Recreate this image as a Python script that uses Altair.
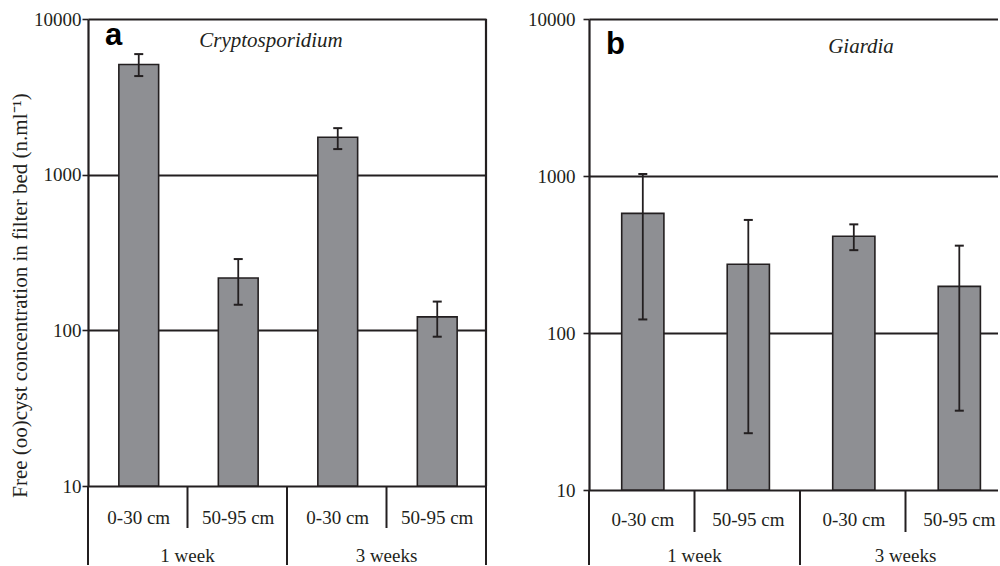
import altair as alt
import pandas as pd

# ---- data ----
depths = ["0-30 cm", "50-95 cm", "0-30 cm", "50-95 cm"]
weeks = ["1 week", "3 weeks"]
crypto_mean = [5100, 217, 1740, 122]
crypto_hi = [5950, 287, 1990, 153]
crypto_lo = [4300, 146, 1460, 91]
giardia_mean = [578, 274, 413, 198]
giardia_hi = [1030, 525, 492, 360]
giardia_lo = [122, 23, 337, 32]
y_ticks = [10, 100, 1000, 10000]

SERIF = "Liberation Serif"
SANS = "Liberation Sans"
FILL = "#8e8f93"
INK = "#231f20"
FS = 19


def panel(mean, hi, lo, letter, organism, H, W, xmax, ytitle, label_pad,
          letter_y, title_y, title_cx, draw_right, table_h, depth_dy, week_dy):
    n = len(depths)
    df = pd.DataFrame({"i": list(range(n)), "depth": depths,
                       "mean": mean, "hi": hi, "lo": lo})
    df["x0"] = df["i"] + 0.31
    df["x1"] = df["i"] + 0.71
    df["xc"] = df["i"] + 0.51

    xs = alt.Scale(domain=[0, xmax], nice=False, zero=False)
    ys = alt.Scale(type="log", domain=[10, 10000], nice=False)

    axis_kw = dict(values=y_ticks, format="d", grid=True, gridColor=INK,
                   gridWidth=1.8, domainColor=INK, domainWidth=2.2,
                   tickColor=INK, tickSize=6, tickWidth=1.6,
                   labelFont=SERIF, labelFontSize=FS, labelColor=INK,
                   labelPadding=label_pad)
    if ytitle:
        axis_kw.update(title=ytitle, titleFont=SERIF, titleFontSize=21,
                       titleFontWeight="normal", titleColor=INK,
                       titlePadding=3, titleY=276)
    else:
        axis_kw.update(title="")
    base = alt.Chart(df)

    bars = base.mark_bar(fill=FILL, stroke=INK, strokeWidth=1.6).encode(
        x=alt.X("x0:Q", scale=xs, axis=None),
        x2="x1:Q",
        y=alt.Y("mean:Q", scale=ys, axis=alt.Axis(**axis_kw)),
        y2=alt.datum(10),
    )
    err = base.mark_rule(color=INK, strokeWidth=1.8).encode(
        x="xc:Q", y="lo:Q", y2="hi:Q")
    cap_hi = base.mark_rule(color=INK, strokeWidth=2, xOffset=-4.5,
                            x2Offset=4.5).encode(x="xc:Q", x2="xc:Q", y="hi:Q")
    cap_lo = base.mark_rule(color=INK, strokeWidth=2, xOffset=-4.5,
                            x2Offset=4.5).encode(x="xc:Q", x2="xc:Q", y="lo:Q")

    layers = [bars, err, cap_hi, cap_lo]

    if draw_right:
        right = alt.Chart(pd.DataFrame({"x": [n]})).mark_rule(
            color=INK, strokeWidth=2.2).encode(
            x="x:Q", y=alt.value(0), y2=alt.value(H))
        layers.append(right)

    # table below the axis: group separators and depth separators
    groups = [0, 2, 4] if draw_right else [0, 2]
    gsep = alt.Chart(pd.DataFrame({"x": groups})).mark_rule(
        color=INK, strokeWidth=2).encode(
        x="x:Q", y=alt.value(H), y2=alt.value(H + table_h))
    dsep = alt.Chart(pd.DataFrame({"x": [1, 3]})).mark_rule(
        color=INK, strokeWidth=2).encode(
        x="x:Q", y=alt.value(H), y2=alt.value(H + 42))
    dlab = base.mark_text(font=SERIF, fontSize=FS, color=INK,
                          baseline="middle").encode(
        x="xc:Q", text="depth:N", y=alt.value(H + depth_dy))
    wk = pd.DataFrame({"w": weeks, "x": [1, 3]})
    wlab = alt.Chart(wk).mark_text(font=SERIF, fontSize=FS, color=INK,
                                   baseline="middle").encode(
        x="x:Q", text="w:N", y=alt.value(H + week_dy))
    layers += [gsep, dsep, dlab, wlab]

    one = pd.DataFrame({"t": [letter], "o": [organism]})
    let = alt.Chart(one).mark_text(font=SANS, fontSize=31, fontWeight="bold",
                                   color="black", align="left",
                                   baseline="alphabetic").encode(
        text="t:N", x=alt.value(17), y=alt.value(letter_y))
    ttl = alt.Chart(one).mark_text(font=SERIF, fontSize=21, fontStyle="italic",
                                   color=INK, align="center",
                                   baseline="alphabetic").encode(
        text="o:N", x=alt.value(title_cx), y=alt.value(title_y))
    layers += [let, ttl]

    return alt.layer(*layers).properties(width=W, height=H)


pa = panel(crypto_mean, crypto_hi, crypto_lo, "a", "Cryptosporidium",
           H=467, W=398, xmax=4,
           ytitle="Free (oo)cyst concentration in filter bed (n.ml\u207b\u00b9)",
           label_pad=1, letter_y=26, title_y=28, title_cx=183, draw_right=True,
           table_h=79, depth_dy=32, week_dy=70)
pb = panel(giardia_mean, giardia_hi, giardia_lo, "b", "Giardia",
           H=471, W=409, xmax=409 / 105.5, ytitle=None, label_pad=8,
           letter_y=35, title_y=34, title_cx=272, draw_right=False,
           table_h=75, depth_dy=30, week_dy=66)

chart = alt.hconcat(pa, pb, spacing=39).resolve_scale(
    x="independent", y="independent"
).properties(
    padding={"left": 9, "top": 10, "right": 0, "bottom": 0}
).configure_view(strokeWidth=0)

chart.save("out.html", embed_options={"renderer": "svg", "actions": False})
